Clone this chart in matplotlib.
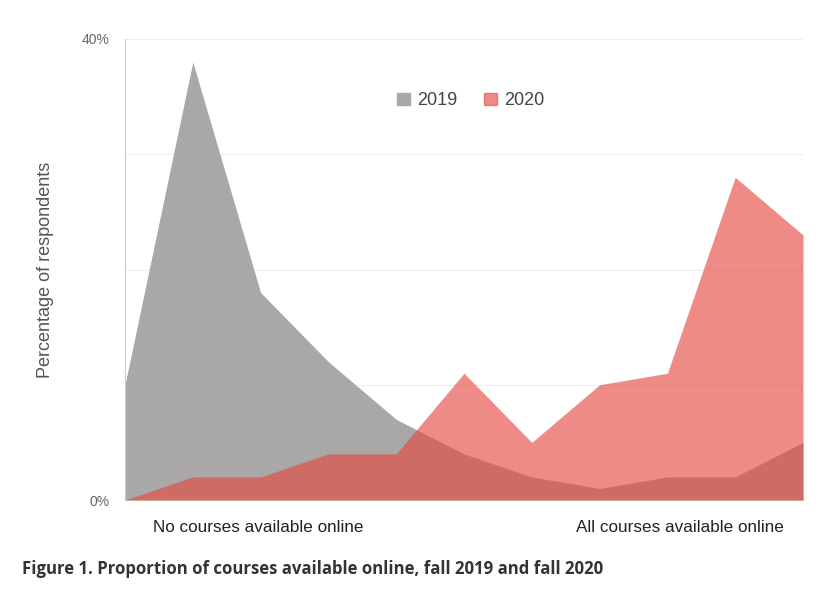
import numpy as np
import matplotlib.pyplot as plt
from matplotlib.patches import Patch

plt.rcParams.update({
    "font.family": ["Liberation Sans", "DejaVu Sans"],
})

puntos = list(range(11))
serie_2019 = [10, 38, 18, 12, 7, 4, 2, 1, 2, 2, 5]
serie_2020 = [0, 2, 2, 4, 4, 11, 5, 10, 11, 28, 23]
etiquetas_y = ["0%", "40%"]
valores_y = [0, 40]

gris = "#a9a7a8"
rojo = "#e6483f"

fig = plt.figure(figsize=(8.4, 5.92), dpi=100)
ax = fig.add_axes([125 / 840, 1 - 500 / 592, (803 - 125) / 840, (500 - 39) / 592])

ax.fill_between(puntos, 0, serie_2019, color=gris, lw=0, zorder=2)
ax.fill_between(puntos, 0, serie_2020, color=rojo, alpha=0.63, lw=0, zorder=3)

ax.set_xlim(0, 10)
ax.set_ylim(0, 40)
for g in [10, 20, 30, 40]:
    ax.axhline(g, color="#eeeeee", lw=0.8, zorder=1)
ax.set_yticks(valores_y)
ax.set_yticklabels(etiquetas_y, color="#666666", fontsize=10)
ax.tick_params(axis="y", length=0, pad=11)
ax.set_xticks([])
for s in ["top", "right", "bottom"]:
    ax.spines[s].set_visible(False)
ax.spines["left"].set_color("#cccccc")
ax.set_ylabel("Percentage of respondents", fontsize=13, color="#555555")
ax.yaxis.set_label_coords((54 - 125) / 678, 0.5)

handles = [Patch(color=gris, label="2019"), Patch(color=rojo, alpha=0.63, label="2020")]
ax.legend(handles=handles, loc="center", bbox_to_anchor=(0.51, 0.866), ncol=2,
          frameon=False, fontsize=13, handlelength=0.7, handleheight=0.7,
          handletextpad=0.4, columnspacing=1.5, labelcolor="#444444")

fig.text(258 / 840, 1 - 528 / 592, "No courses available online", ha="center", va="center",
         fontsize=12.3, color="#222222")
fig.text(680 / 840, 1 - 528 / 592, "All courses available online", ha="center", va="center",
         fontsize=12.3, color="#222222")
fig.text(22 / 840, 1 - 569 / 592, "Figure 1. Proportion of courses available online, fall 2019 and fall 2020",
         ha="left", va="center", fontsize=12.1, fontweight="bold", color="#333333",
         family=["Open Sans", "DejaVu Sans"])

fig.savefig("out.png", dpi=100)
